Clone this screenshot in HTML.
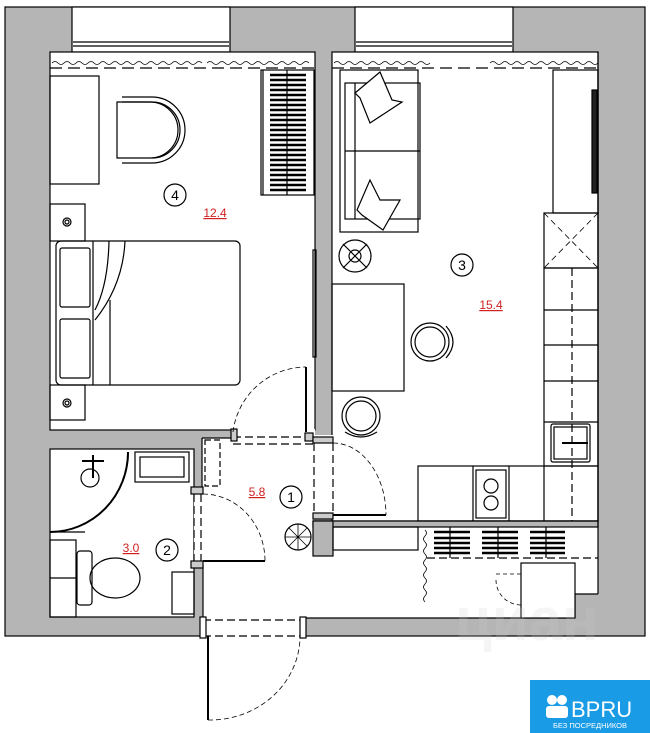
<!DOCTYPE html>
<html><head><meta charset="utf-8"><style>
html,body{margin:0;padding:0;background:#fff;}
svg{display:block;font-family:"Liberation Sans",sans-serif;}
</style></head><body>
<svg width="650" height="733" viewBox="0 0 650 733" xmlns="http://www.w3.org/2000/svg">
<g stroke="#000" stroke-width="1.2" fill="none">
<rect x="5" y="7" width="640" height="629" fill="#b5b5b5"/>
<rect x="72" y="7" width="158" height="45" fill="#fff"/>
<line x1="73" y1="42" x2="229" y2="42"/><line x1="73" y1="46" x2="229" y2="46"/>
<rect x="355" y="7" width="158" height="45" fill="#fff"/>
<line x1="356" y1="42" x2="512" y2="42"/><line x1="356" y1="46" x2="512" y2="46"/>
<rect x="50" y="52" width="265" height="378" fill="#fff"/>
<rect x="332" y="52" width="266" height="469" fill="#fff"/>
<rect x="50" y="449" width="144" height="168" fill="#fff"/>
<path d="M202 438 H315 V438 H313 V521 H598 V594 H575 V618 H203 Z" fill="#fff" stroke="none"/>
<rect x="233" y="429" width="82" height="10" fill="#fff" stroke="none"/>
<rect x="313" y="435" width="20" height="80" fill="#fff" stroke="none"/>
<rect x="203" y="616" width="102" height="21" fill="#fff" stroke="none"/>
<rect x="194" y="490" width="9" height="75" fill="#fff" stroke="none"/>
<rect x="313" y="521" width="285" height="6" fill="#b5b5b5"/>
<rect x="313" y="521" width="20" height="35" fill="#b5b5b5"/>
<line x1="202" y1="438" x2="233" y2="438"/>
<line x1="202" y1="438" x2="202" y2="490"/>
<line x1="203" y1="565" x2="203" y2="618"/>
<line x1="305" y1="618" x2="575" y2="618"/>
<line x1="575" y1="594" x2="598" y2="594"/>
<line x1="598" y1="52" x2="598" y2="594"/>
<line x1="575" y1="594" x2="575" y2="618"/>
<path d="M50 68 H315 M332 68 H598" stroke-dasharray="12 6"/>
<path d="M52 63 q3 -3 6 0 t6 0 t6 0 t6 0 t6 0 t6 0 t6 0 t6 0 t6 0 t6 0 t6 0 t6 0 t6 0 t6 0 t6 0 t6 0 t6 0 t6 0 t6 0 t6 0 t6 0 t6 0 t6 0 t6 0 t6 0" stroke-width="0.8"/>
<path d="M207 63 q3 -3 6 0 t6 0 t6 0 t6 0 t6 0 t6 0 t6 0 t6 0 t6 0 t6 0 t6 0 t6 0 t6 0 t6 0 t6 0 t6 0 t6 0" stroke-width="0.8"/>
<path d="M334 63 q3 -3 6 0 t6 0 t6 0 t6 0 t6 0 t6 0 t6 0 t6 0 t6 0 t6 0 t6 0 t6 0 t6 0 t6 0 t6 0 t6 0" stroke-width="0.8"/>
<path d="M490 63 q3 -3 6 0 t6 0 t6 0 t6 0 t6 0 t6 0 t6 0 t6 0 t6 0 t6 0 t6 0 t6 0 t6 0 t6 0 t6 0 t6 0 t6 0 t6 0" stroke-width="0.8"/>
<rect x="50" y="76" width="49" height="108"/>
<path d="M117 102 H150 A28 28 0 0 1 150 158 H117 Z"/>
<path d="M122 97 H152 A33 33 0 0 1 152 163 H122"/>
<path d="M122 102 H152 A28 28 0 0 1 152 158"/>
<rect x="261" y="70" width="53" height="125"/>
<line x1="263" y1="70" x2="263" y2="195"/><line x1="287" y1="70" x2="287" y2="195"/>
<g stroke-width="2.5">
<path d="M270 75H306M270 80H306M270 85H306M270 90H306M270 95H306M270 100H306M270 105H306M270 110H306M270 115H306M270 120H306M270 125H306M270 130H306M270 135H306M270 140H306M270 145H306M270 150H306M270 155H306M270 160H306M270 165H306M270 170H306M270 175H306M270 180H306M270 185H306M270 190H306"/>
</g>
<rect x="50" y="204" width="35" height="37"/>
<circle cx="67" cy="222" r="4"/><circle cx="67" cy="222" r="2"/>
<rect x="50" y="385" width="35" height="35"/>
<circle cx="67" cy="403" r="4"/><circle cx="67" cy="403" r="2"/>
<rect x="56" y="241" width="184" height="144" rx="5"/>
<line x1="93" y1="241" x2="93" y2="385"/>
<line x1="110" y1="300" x2="110" y2="385"/>
<rect x="60" y="248" width="30" height="59" rx="2"/>
<rect x="60" y="319" width="30" height="59" rx="2"/>
<path d="M109 241 Q108 285 95 310 M125 241 Q123 285 95 320"/>
<rect x="313" y="250" width="3" height="107"/>
<rect x="340" y="70" width="78" height="162"/>
<rect x="345" y="83" width="75" height="136"/>
<line x1="345" y1="151" x2="420" y2="151"/>
<line x1="355" y1="83" x2="355" y2="219"/>
<path d="M355 93 L380 72 L392 100 L402 102 L370 123 L360 98 Z" fill="#fff"/>
<path d="M357 210 L370 180 L380 200 L400 200 L383 230 L362 215 Z" fill="#fff"/>
<circle cx="355" cy="256" r="16"/><circle cx="355" cy="256" r="6"/>
<path d="M343 244 L367 268 M367 244 L343 268"/>
<rect x="332" y="284" width="72" height="107"/>
<circle cx="430" cy="342" r="19"/><circle cx="430" cy="342" r="15"/>
<path d="M446 326 Q460 342 446 358"/>
<circle cx="361" cy="416" r="19"/><circle cx="361" cy="416" r="15"/>
<path d="M345 432 Q361 442 377 432"/>
<rect x="553" y="70" width="45" height="143"/>
<rect x="592" y="90" width="5" height="103" fill="#222"/>
<rect x="544" y="213" width="54" height="55"/>
<path d="M544 213 L598 268 M598 213 L544 268" stroke-dasharray="6 4" stroke-width="0.8"/>
<rect x="544" y="268" width="54" height="198"/>
<path d="M544 310H598M544 345H598M544 381H598M544 422H598"/>
<line x1="572" y1="268" x2="572" y2="521" stroke-dasharray="8 4"/>
<rect x="551" y="424" width="39" height="38" rx="2"/><rect x="554" y="427" width="33" height="32"/>
<path d="M562 443H588" stroke-width="2"/>
<rect x="418" y="466" width="180" height="55"/>
<path d="M473 466V521M509 466V521M544 466V521"/>
<rect x="476" y="470" width="30" height="48"/>
<circle cx="491" cy="486" r="7"/><circle cx="491" cy="503" r="7"/>
<rect x="333" y="527" width="85" height="23"/>
<line x1="427" y1="558" x2="598" y2="558" stroke-dasharray="8 4"/>
<g stroke-width="2.5">
<path d="M434 532H470M434 538H470M434 543H470M434 548H470M434 553H470"/>
<path d="M482 532H518M482 538H518M482 543H518M482 548H518M482 553H518"/>
<path d="M530 532H565M530 538H565M530 543H565M530 548H565M530 553H565"/>
</g>
<path d="M450 527V558M498 527V558M546 527V558"/>
<path d="M425 530 q3 3 0 6 t0 6 t0 6 t0 6 t0 6 t0 6 t0 6 t0 6 t0 6 t0 6 t0 6 t0 6" stroke-width="0.8"/>
<rect x="521" y="563" width="54" height="55" fill="#fff"/>
<path d="M496 574H521 M496 580 A25 25 0 0 0 521 605" stroke-dasharray="4 3" stroke-width="0.8"/>
<path d="M128 452 A78 80 0 0 1 50 532" stroke-width="2" transform="rotate(0)"/>
<path d="M50 532 H85" />
<path d="M128 452 V460" />
<circle cx="90" cy="478" r="9"/>
<path d="M82 461H104M93 455V478" stroke-width="2"/>
<rect x="135" y="452" width="54" height="30"/><rect x="140" y="457" width="44" height="20"/>
<rect x="50" y="540" width="26" height="77"/><line x1="50" y1="578" x2="76" y2="578"/>
<rect x="77" y="551" width="15" height="54" rx="3"/>
<ellipse cx="115" cy="578" rx="25" ry="20"/>
<rect x="172" y="572" width="22" height="42"/>
<path d="M233 437H313 M233 444H313" stroke-dasharray="8 4"/>
<rect x="231" y="429" width="6" height="12" fill="#ccc"/>
<rect x="305" y="433" width="8" height="8" fill="#ccc"/>
<path d="M306 367 V432" stroke-width="2"/>
<path d="M233 432 A74 74 0 0 1 306 367" stroke-dasharray="5 3" stroke-width="0.8"/>
<rect x="313" y="437" width="20" height="6" fill="#ccc"/>
<rect x="313" y="513" width="20" height="6" fill="#ccc"/>
<path d="M314 443V513 M333 443V513" stroke-dasharray="8 4"/>
<path d="M333 515 H386" stroke-width="2"/>
<path d="M333 443 A53 72 0 0 1 386 515" stroke-dasharray="5 3" stroke-width="0.8"/>
<rect x="205" y="440" width="15" height="46" stroke-dasharray="6 3"/>
<rect x="191" y="487" width="12" height="7" fill="#ccc"/>
<rect x="191" y="561" width="12" height="7" fill="#ccc"/>
<path d="M194 494V561 M201 494V561" stroke-dasharray="8 4"/>
<path d="M203 561 H265" stroke-width="2"/>
<path d="M203 494 A62 67 0 0 1 265 561" stroke-dasharray="5 3" stroke-width="0.8"/>
<circle cx="298" cy="537" r="13"/>
<path d="M285 537H311M298 524V550M289 528L307 546M307 528L289 546" stroke-width="0.8"/>
<path d="M203 620H305 M203 636H305" stroke-dasharray="8 4"/>
<rect x="200" y="617" width="6" height="21" fill="#fff"/>
<rect x="300" y="617" width="6" height="21" fill="#fff"/>
<path d="M208 636 V720" stroke-width="2"/>
<path d="M208 720 A90 84 0 0 0 300 636" stroke-dasharray="5 3" stroke-width="0.8"/>
<circle cx="175" cy="195" r="11"/>
<circle cx="462" cy="265" r="11"/>
<circle cx="291" cy="497" r="11"/>
<circle cx="167" cy="550" r="11"/>
</g>
<g font-size="14" text-anchor="middle" fill="#000">
<text x="175" y="200">4</text><text x="462" y="270">3</text><text x="291" y="502">1</text><text x="167" y="555">2</text>
</g>
<g font-size="12" fill="#d02020" text-anchor="middle" text-decoration="underline">
<text x="215" y="217">12.4</text><text x="491" y="309">15.4</text><text x="257" y="496">5.8</text><text x="131" y="552">3.0</text>
</g>
<text x="455" y="640" font-size="60" fill="#ccc" fill-opacity="0.2" font-weight="bold">циан</text>
<rect x="530" y="680" width="120" height="53" fill="#1a9be6"/>
<circle cx="552" cy="700" r="5" fill="#fff"/><circle cx="562" cy="700" r="5" fill="#fff"/>
<rect x="546" y="706" width="22" height="12" rx="3" fill="#fff"/>
<text x="571" y="717" font-size="22" fill="#fff">BPRU</text>
<text x="590" y="728" font-size="7.5" fill="#fff" text-anchor="middle">БЕЗ ПОСРЕДНИКОВ</text>
</svg>
</body></html>
